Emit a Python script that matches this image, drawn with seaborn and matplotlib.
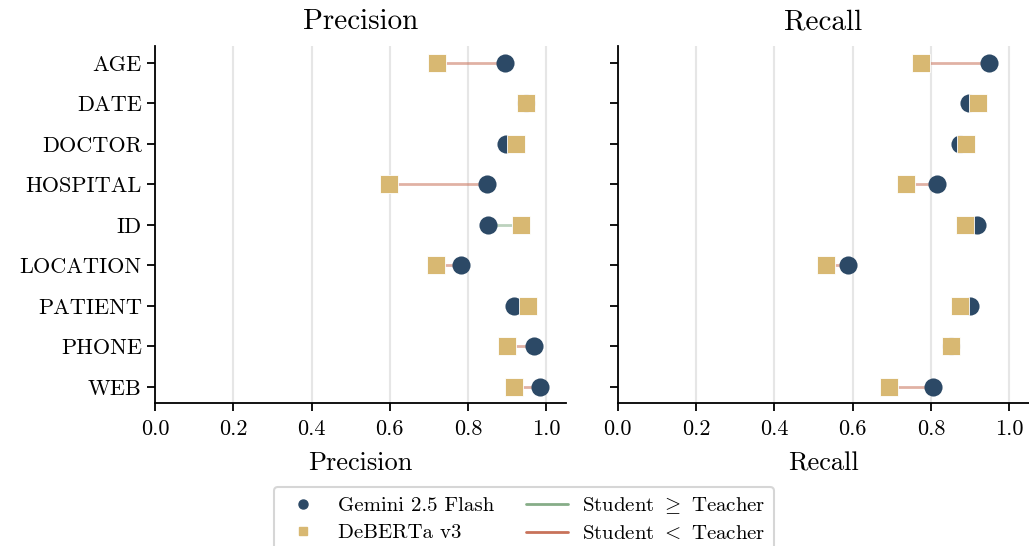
import numpy as np
import pandas as pd
import matplotlib
matplotlib.use("Agg")
import matplotlib.pyplot as plt
from matplotlib.lines import Line2D
import seaborn as sns

categories = ["AGE", "DATE", "DOCTOR", "HOSPITAL", "ID", "LOCATION", "PATIENT", "PHONE", "WEB"]
teacher_precision = [0.893, 0.947, 0.897, 0.849, 0.851, 0.781, 0.916, 0.968, 0.984]
student_precision = [0.720, 0.948, 0.923, 0.597, 0.934, 0.719, 0.954, 0.898, 0.918]
teacher_recall = [0.948, 0.896, 0.875, 0.816, 0.918, 0.587, 0.901, 0.851, 0.804]
student_recall = [0.774, 0.919, 0.890, 0.735, 0.887, 0.533, 0.873, 0.852, 0.694]
x_ticks = [0.0, 0.2, 0.4, 0.6, 0.8, 1.0]

teacher_name = "Gemini 2.5 Flash"
student_name = "DeBERTa v3"

NAVY = "#2c4966"
GOLD = "#d8b872"
GREEN = "#86ad88"
RED = "#c8725a"

sns.set_theme(style="ticks")
plt.rcParams["font.family"] = ["cmr10", "DejaVu Serif"]
plt.rcParams["mathtext.fontset"] = "cm"
plt.rcParams["axes.formatter.use_mathtext"] = True
plt.rcParams["axes.unicode_minus"] = False
for k in ["text.color", "axes.labelcolor", "xtick.color", "ytick.color",
          "xtick.labelcolor", "ytick.labelcolor"]:
    plt.rcParams[k] = "black"

fig = plt.figure(figsize=(10.29, 5.46), dpi=100)
axL = fig.add_axes([155 / 1029, 143 / 546, 411 / 1029, 357 / 546])
axR = fig.add_axes([617.8 / 1029, 143 / 546, 411 / 1029, 357 / 546])

panels = [
    (axL, "Precision", teacher_precision, student_precision),
    (axR, "Recall", teacher_recall, student_recall),
]

for ax, name, teach, stud in panels:
    df = pd.DataFrame({"cat": categories, "teacher": teach, "student": stud})
    ypos = np.arange(len(categories))
    for i, row in df.iterrows():
        col = GREEN if row["student"] >= row["teacher"] else RED
        ax.plot([row["teacher"], row["student"]], [i, i], color=col, lw=2.0,
                alpha=0.55, zorder=1, solid_capstyle="butt")
    df["y"] = ypos
    sns.scatterplot(data=df, x="teacher", y="y", ax=ax, color=NAVY, marker="o",
                    s=170, edgecolor=NAVY, linewidth=0, zorder=3, legend=False)
    sns.scatterplot(data=df, x="student", y="y", ax=ax, color=GOLD, marker="s",
                    s=170, edgecolor="white", linewidth=0.6, zorder=4, legend=False)
    ax.set_xlim(0, 1.05)
    ax.set_ylim(8.4, -0.42)
    ax.set_yticks(ypos)
    ax.set_xticks(x_ticks)
    ax.set_xticklabels([f"{t:.1f}" for t in x_ticks], fontsize=16)
    ax.grid(axis="x", color="#e6e6e6", lw=1.5, zorder=0)
    ax.grid(axis="y", visible=False)
    ax.set_axisbelow(True)
    ax.set_title(name, fontsize=21, pad=12, color="black")
    ax.set_xlabel(name, fontsize=19, labelpad=9, color="black")
    ax.set_ylabel("")
    for s in ["top", "right"]:
        ax.spines[s].set_visible(False)
    for s in ["left", "bottom"]:
        ax.spines[s].set_linewidth(1.3)
        ax.spines[s].set_color("black")
    ax.tick_params(axis="both", direction="out", length=6, width=1.3,
                   color="black", labelcolor="black")
    ax.tick_params(axis="x", pad=6)

axL.set_yticklabels(categories, fontsize=16)
axR.set_yticklabels([])

handles = [
    Line2D([], [], marker="o", ls="none", color=NAVY, markersize=6.5),
    Line2D([], [], marker="s", ls="none", color=GOLD, markersize=6),
    Line2D([], [], color=GREEN, lw=2),
    Line2D([], [], color=RED, lw=2),
]
labels = [teacher_name, student_name, r"Student $\geq$ Teacher", r"Student $<$ Teacher"]
leg = fig.legend(handles, labels, ncol=2, loc="upper center",
                 bbox_to_anchor=(0.509, 1 - 487 / 546), borderaxespad=0,
                 fontsize=15, frameon=True, fancybox=True, edgecolor="#cccccc",
                 handlelength=2.0, handletextpad=0.7, columnspacing=1.5,
                 borderpad=0.4, labelspacing=0.4)
leg.get_frame().set_linewidth(1.5)
for t in leg.get_texts():
    t.set_color("black")

fig.savefig("out.png", dpi=100)
